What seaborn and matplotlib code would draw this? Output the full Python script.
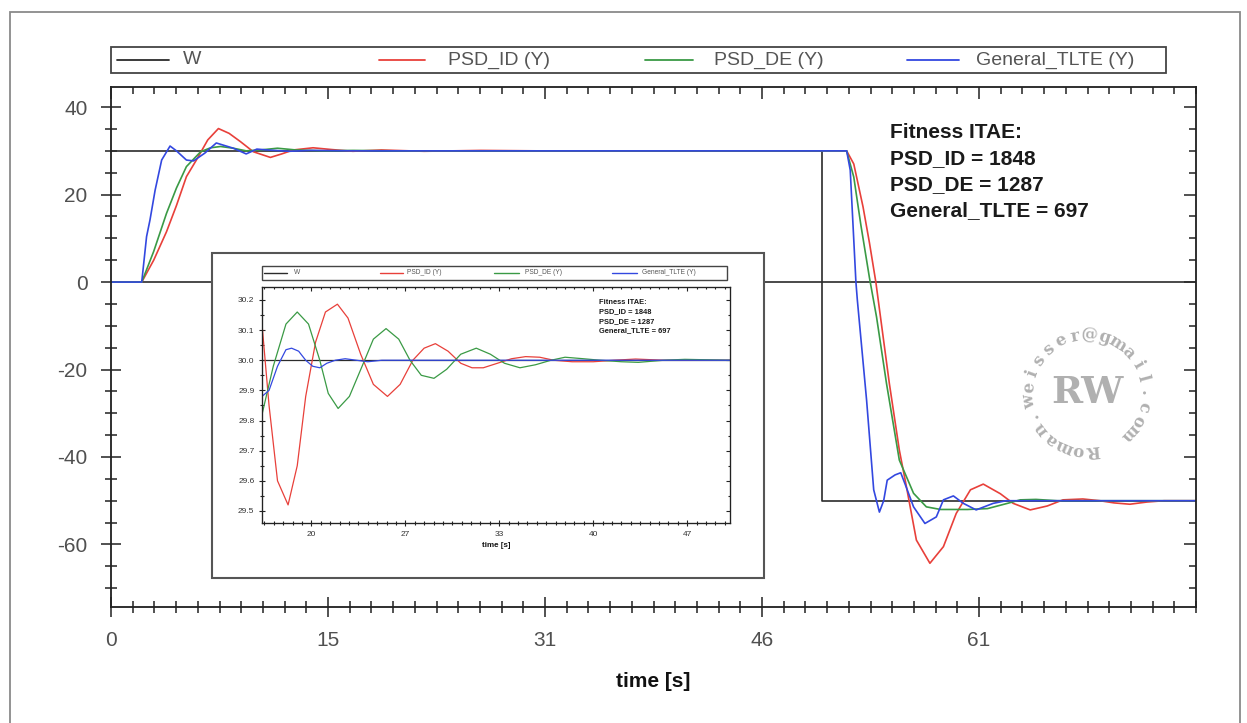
import numpy as np
import pandas as pd
import seaborn as sns
import matplotlib.pyplot as plt
from matplotlib.patches import Rectangle
from matplotlib.lines import Line2D
from matplotlib.ticker import MultipleLocator, FixedLocator

sns.set_theme(style="white")
plt.rcParams['font.family'] = ['Liberation Sans', 'DejaVu Sans']
plt.rcParams['axes.unicode_minus'] = False

W_PX, H_PX = 1247, 723

series_names = ["W", "PSD_ID (Y)", "PSD_DE (Y)", "General_TLTE (Y)"]
series_colors = ["#2b2b2b", "#e8403a", "#3a9a45", "#3348e0"]
fitness_text = "Fitness ITAE:\nPSD_ID = 1848\nPSD_DE = 1287\nGeneral_TLTE = 697"

# main plot data
w_time = [0, 50, 50, 76.25]
w_value = [30, 30, -50, -50]

id_time = [0, 2.16, 3.0, 3.9, 4.6, 5.3, 6.0, 6.8, 7.55, 8.3, 9.1, 10.0, 11.2, 12.0, 12.8,
           14.2, 15.5, 17, 19, 22, 26, 30, 40, 50, 51.7, 52.2, 52.85, 53.3, 53.75, 54.7,
           55.4, 55.9, 56.6, 57.55, 58.5, 59.4, 60.4, 61.3, 62.5, 63.4, 64.6, 65.8, 66.9,
           68.3, 69.5, 70.5, 71.6, 72.8, 74, 76.25]
id_value = [0, 0, 5.0, 11.5, 17.5, 24.1, 27.9, 32.5, 35.1, 34.0, 32.1, 29.8, 28.5, 29.3, 30.2,
            30.7, 30.3, 29.9, 30.2, 29.9, 30.1, 30, 30, 30, 30, 27, 17.2, 9, 0, -23.2,
            -38.4, -46.8, -59, -64.3, -60.5, -52.9, -47.5, -46.2, -48.4, -50.6, -52.1, -51.2, -49.8,
            -49.6, -50.0, -50.5, -50.8, -50.3, -50, -50]

de_time = [0, 2.16, 3.0, 3.9, 4.6, 5.3, 6.3, 7.0, 7.7, 8.6, 9.5, 10.5, 11.7, 13, 15, 17, 20,
           30, 40, 50, 51.7, 52.2, 52.7, 53.3, 53.8, 54.5, 55.4, 56.4, 57.3, 58.3, 60.2,
           61.6, 63.0, 63.9, 65, 66.5, 76.25]
de_value = [0, 0, 7, 15.7, 21.5, 26.4, 29.8, 30.7, 31.0, 30.6, 30.0, 30.2, 30.6, 30.2, 30.0, 30.1, 30.0,
            30, 30, 30, 30, 24, 13, 1, -8, -23.2, -40.7, -48.3, -51.4, -52, -52,
            -51.8, -50.6, -49.8, -49.7, -50, -50]

tl_time = [0, 2.16, 2.5, 2.74, 3.1, 3.56, 4.15, 4.6, 5.3, 5.8, 6.6, 7.4, 8.6, 9.5, 10.25, 11,
           12.5, 14, 17, 50, 51.7, 51.95, 52.35, 52.45, 53.1, 53.6, 54.0, 54.3, 54.55, 55.1,
           55.5, 55.9, 56.4, 57.2, 58.0, 58.5, 59.2, 59.9, 60.8, 62.0, 62.9, 64, 76.25]
tl_value = [0, 0, 10.4, 14.2, 21, 27.9, 31.1, 30.0, 27.9, 27.7, 29.5, 31.8, 30.6, 29.3, 30.4, 30.2,
            29.9, 30.1, 30, 30, 30, 25.6, 0, -4.1, -27, -47.5, -52.6, -50, -45.3, -44.1,
            -43.6, -47, -51.4, -55.2, -53.7, -49.8, -48.9, -50.6, -52.1, -50.6, -50, -50, -50]

# zoomed inset data
zw_time = [16.5, 49.7]
zw_value = [30.0, 30.0]

zid_time = [16.5, 17.0, 17.6, 18.35, 19.0, 19.6, 20.3, 21.0, 21.85, 22.6, 23.5, 24.4, 25.4, 26.3,
            27.2, 28.0, 28.8, 29.7, 30.6, 31.4, 32.2, 33.2, 34.2, 35.2, 36.2, 37.2, 38.5, 40,
            41.5, 43, 45, 49.7]
zid_value = [30.12, 29.85, 29.6, 29.52, 29.65, 29.88, 30.06, 30.16, 30.186, 30.14, 30.02, 29.92, 29.88, 29.92,
             30.0, 30.04, 30.055, 30.03, 29.99, 29.975, 29.975, 29.99, 30.005, 30.012, 30.01, 30.0, 29.995, 29.995,
             30.0, 30.004, 30.0, 30.0]

zde_time = [16.5, 17.3, 18.2, 19.0, 19.8, 20.6, 21.2, 21.9, 22.7, 23.6, 24.4, 25.3, 26.2, 27.0,
            27.8, 28.7, 29.6, 30.6, 31.7, 32.7, 33.7, 34.8, 35.9, 37, 38, 39.3, 40.5, 42, 43.2,
            45, 46.5, 49.7]
zde_value = [29.82, 29.98, 30.12, 30.16, 30.12, 30.0, 29.89, 29.84, 29.88, 29.98, 30.07, 30.105, 30.07, 30.0,
             29.95, 29.94, 29.97, 30.02, 30.04, 30.02, 29.99, 29.975, 29.985, 30.0, 30.01, 30.005, 30.0, 29.995, 29.993,
             30.0, 30.003, 30.0]

ztl_time = [16.5, 17.0, 17.6, 18.2, 18.6, 19.1, 19.6, 20.1, 20.6, 21.1, 21.7, 22.4, 23.2, 24.0, 25, 49.7]
ztl_value = [29.88, 29.9, 29.98, 30.035, 30.04, 30.03, 30.0, 29.98, 29.975, 29.99, 30.0, 30.005, 30.0, 29.995,
             30.0, 30.0]


def to_frame(parts):
    return pd.concat([pd.DataFrame({"time": t, "value": v, "series": n}) for n, t, v in parts],
                     ignore_index=True)


main_df = to_frame([(series_names[0], w_time, w_value), (series_names[1], id_time, id_value),
                    (series_names[2], de_time, de_value), (series_names[3], tl_time, tl_value)])
zoom_df = to_frame([(series_names[0], zw_time, zw_value), (series_names[1], zid_time, zid_value),
                    (series_names[2], zde_time, zde_value), (series_names[3], ztl_time, ztl_value)])
palette = dict(zip(series_names, series_colors))


def fx(px):
    return px / W_PX


def fy(py):
    return 1 - py / H_PX


def box(l, t, r, b):
    return [fx(l), fy(b), fx(r) - fx(l), fy(t) - fy(b)]


def frame_ticks(ax, xmin, ymaj, ymin, xticks, xlabels, size, majlen, minlen, lw, pad, labelcolor):
    ax.set_xticks(xticks)
    ax.set_xticklabels(xlabels)
    ax.xaxis.set_minor_locator(MultipleLocator(xmin))
    ax.yaxis.set_major_locator(MultipleLocator(ymaj))
    ax.yaxis.set_minor_locator(MultipleLocator(ymin))
    ax.tick_params(which="both", direction="inout", bottom=True, left=True, top=False, right=False,
                   color="#222222", width=lw, labelsize=size, labelcolor=labelcolor, pad=pad)
    ax.tick_params(which="major", length=majlen)
    ax.tick_params(which="minor", length=minlen)
    for s in ax.spines.values():
        s.set_color("#222222")
        s.set_linewidth(lw * 1.2)
    top = ax.secondary_xaxis("top")
    top.xaxis.set_major_locator(FixedLocator(xticks))
    top.xaxis.set_minor_locator(MultipleLocator(xmin))
    right = ax.secondary_yaxis("right")
    right.yaxis.set_major_locator(MultipleLocator(ymaj))
    right.yaxis.set_minor_locator(MultipleLocator(ymin))
    for sec in (top, right):
        sec.tick_params(which="both", direction="in", color="#222222", width=lw,
                        labeltop=False, labelright=False)
        sec.tick_params(which="major", length=majlen * 0.6)
        sec.tick_params(which="minor", length=minlen * 0.6)
        for s in sec.spines.values():
            s.set_visible(False)


def legend_row(fig, l, t, r, b, handles, texts, size, lw, z):
    fig.add_artist(Rectangle((fx(l), fy(b)), fx(r) - fx(l), fy(t) - fy(b), transform=fig.transFigure,
                             facecolor="white", edgecolor="#444444", linewidth=lw, zorder=z))
    yc = fy((t + b) / 2)
    for (h0, h1), tx, name, col in zip(handles, texts, series_names, series_colors):
        fig.add_artist(Line2D([fx(h0), fx(h1)], [yc, yc], transform=fig.transFigure, color=col,
                              linewidth=lw, zorder=z + 0.1))
        fig.text(fx(tx), yc, name, ha="left", va="center", fontsize=size, color="#555555", zorder=z + 0.1)


fig = plt.figure(figsize=(W_PX / 100, H_PX / 100), dpi=100)

# outer frame
fig.add_artist(Rectangle((fx(10), fy(740)), fx(1240) - fx(10), fy(12) - fy(740), transform=fig.transFigure,
                         facecolor="none", edgecolor="#8a8a8a", linewidth=1.3, zorder=0))

# main axes
ax = fig.add_axes(box(111, 87, 1196, 607))
ax.axhline(0, color="#2b2b2b", linewidth=1.2, zorder=1)
sns.lineplot(data=main_df, x="time", y="value", hue="series", hue_order=series_names, palette=palette,
             estimator=None, sort=False, legend=False, linewidth=1.2, ax=ax)
ax.set_xlim(0, 76.25)
ax.set_ylim(-74.3, 44.6)
frame_ticks(ax, 1.525, 20, 5, [0, 15.25, 30.5, 45.75, 61], ["0", "15", "31", "46", "61"],
            15, 14, 8, 1.1, 10, "#505050")
ax.set_xlabel("time [s]", fontsize=15, fontweight="bold", labelpad=16, color="#111111")
ax.set_ylabel("")
ax.text(0.718, 0.93, fitness_text, transform=ax.transAxes, ha="left", va="top", fontsize=15,
        fontweight="bold", color="#1a1a1a", linespacing=1.45)

legend_row(fig, 111, 47, 1166, 73, [(117, 169), (379, 425), (645, 693), (907, 959)],
           [183, 448, 714, 976], 14, 1.3, 3)

# watermark
wm_text = "Roman.weisser@gmail.com"
cx, cy, r = 1087, 393, 58
for ch, a in zip(wm_text, np.linspace(276, -43, len(wm_text))):
    px = cx + r * np.cos(np.radians(a))
    py = cy - r * np.sin(np.radians(a))
    fig.text(fx(px), fy(py), ch, rotation=a - 90, ha="center", va="center", fontsize=12,
             fontweight="bold", family="DejaVu Serif", color="#b0b0b0", zorder=1)
fig.text(fx(cx), fy(cy), "RW", ha="center", va="center", fontsize=27, fontweight="bold",
         family="DejaVu Serif", color="#b0b0b0", zorder=1)

# inset panel
fig.add_artist(Rectangle((fx(212), fy(578)), fx(764) - fx(212), fy(253) - fy(578), transform=fig.transFigure,
                         facecolor="white", edgecolor="#555555", linewidth=1.5, zorder=1.5))
ins = fig.add_axes(box(262, 287, 730, 523))
ins.set_zorder(2)
sns.lineplot(data=zoom_df, x="time", y="value", hue="series", hue_order=series_names, palette=palette,
             estimator=None, sort=False, legend=False, linewidth=0.9, ax=ins)
ins.set_xlim(16.5, 49.7)
ins.set_ylim(29.46, 30.243)
frame_ticks(ins, 2 / 3, 0.1, 0.05, [20, 80 / 3, 100 / 3, 40, 140 / 3], ["20", "27", "33", "40", "47"],
            6, 5, 3, 0.8, 3, "#333333")
ins.yaxis.set_major_formatter(plt.FormatStrFormatter("%.1f"))
ins.set_xlabel("time [s]", fontsize=5.8, fontweight="bold", labelpad=3, color="#111111")
ins.set_ylabel("")
ins.text(0.72, 0.95, fitness_text, transform=ins.transAxes, ha="left", va="top", fontsize=5.4,
         fontweight="bold", color="#1a1a1a", linespacing=1.5)
legend_row(fig, 262, 266, 727, 280, [(264, 287), (380, 403), (494, 519), (612, 637)],
           [294, 407, 525, 642], 4.8, 1.0, 3)

fig.savefig("out.png", dpi=100)
